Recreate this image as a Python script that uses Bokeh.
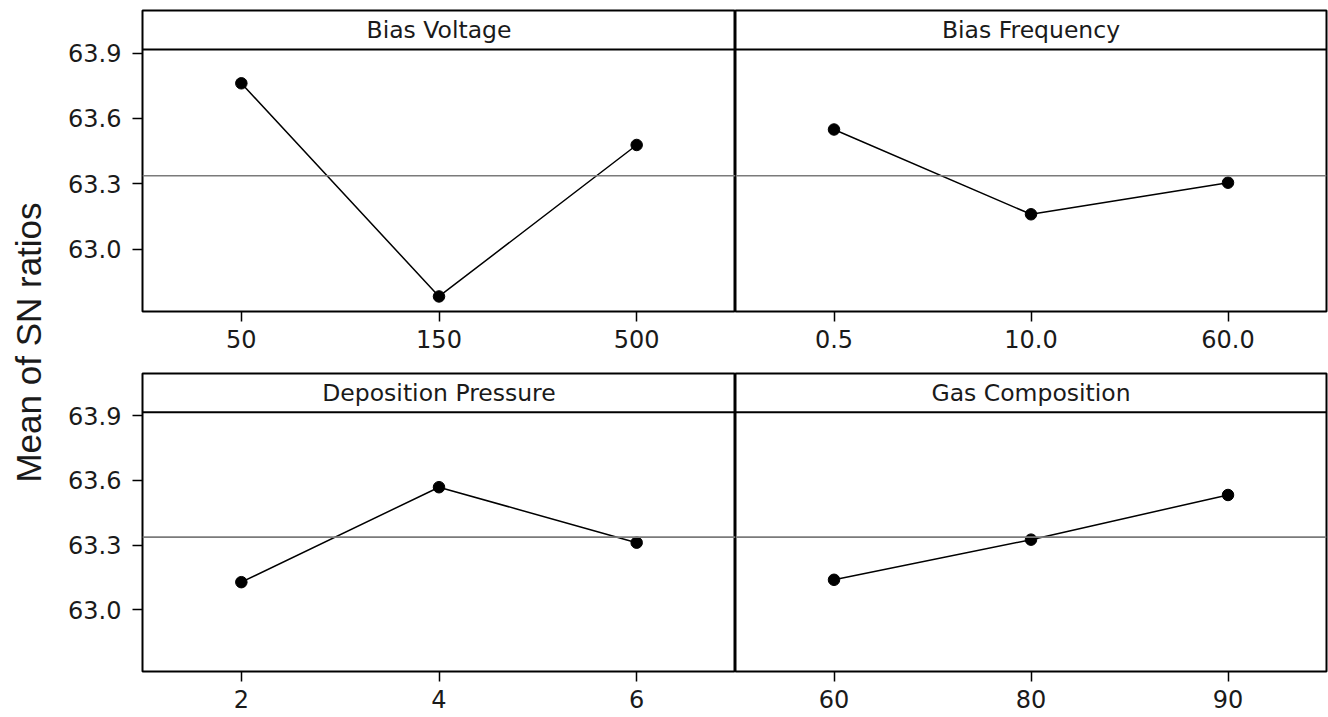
import math
import numpy as np
from bokeh.plotting import figure
from bokeh.layouts import row, column
from bokeh.models import Span, Label, FixedTicker, FactorRange, Range1d, PrintfTickFormatter
from bokeh.embed import file_html
from bokeh.resources import INLINE

# ---- data ----
factor_names = ["Bias Voltage", "Bias Frequency", "Deposition Pressure", "Gas Composition"]
bv_levels = ["50", "150", "500"]
bv_sn = [63.761, 62.783, 63.478]
bf_levels = ["0.5", "10.0", "60.0"]
bf_sn = [63.549, 63.160, 63.305]
dp_levels = ["2", "4", "6"]
dp_sn = [63.128, 63.568, 63.311]
gc_levels = ["60", "80", "90"]
gc_sn = [63.139, 63.325, 63.532]
y_ticks = [63.0, 63.3, 63.6, 63.9]
y_label = "Mean of SN ratios"

grand_mean = float(np.mean(bv_sn + bf_sn + dp_sn + gc_sn))

# ---- layout constants ----
Y_LO = 62.714
Y_HDR = 63.916
Y_HI = 64.095
TICK_FONT = "DejaVu Sans"
TEXT_COLOR = "#1a1a1a"


def panel(title, levels, values, left, top):
    p = figure(
        x_range=FactorRange(*levels),
        y_range=Range1d(Y_LO, Y_HI),
        frame_width=593 if left else 591,
        frame_height=301 if top else 298,
        min_border_left=84 if left else 0,
        min_border_right=0 if left else 2,
        min_border_top=10 if top else 1,
        min_border_bottom=61 if top else 46,
        output_backend="svg",
        toolbar_location=None,
        background_fill_color="white",
        border_fill_color="white",
    )
    p.outline_line_color = "black"
    p.outline_line_width = 2
    p.xgrid.visible = False
    p.ygrid.visible = False

    xa = p.xaxis[0]
    xa.axis_line_color = None
    xa.major_tick_line_color = "black"
    xa.major_tick_line_width = 1.5
    xa.major_tick_out = 10
    xa.major_tick_in = 0
    xa.minor_tick_line_color = None
    xa.major_label_text_font = TICK_FONT
    xa.major_label_text_font_size = "24px"
    xa.major_label_text_color = TEXT_COLOR
    xa.major_label_standoff = 8

    ya = p.yaxis[0]
    if left:
        ya.ticker = FixedTicker(ticks=y_ticks)
        ya.formatter = PrintfTickFormatter(format="%.1f")
        ya.axis_line_color = None
        ya.major_tick_line_color = "black"
        ya.major_tick_line_width = 1.5
        ya.major_tick_out = 10
        ya.major_tick_in = 0
        ya.minor_tick_line_color = None
        ya.major_label_text_font = TICK_FONT
        ya.major_label_text_font_size = "24px"
        ya.major_label_text_color = TEXT_COLOR
        ya.major_label_standoff = 11
    else:
        ya.visible = False

    # grand mean reference line
    p.add_layout(Span(location=grand_mean, dimension="width",
                      line_color="#7a7a7a", line_width=1.6))
    # header strip separator
    p.add_layout(Span(location=Y_HDR, dimension="width",
                      line_color="black", line_width=2))
    p.add_layout(Label(x=1.5, y=(Y_HDR + Y_HI) / 2, text=title,
                       text_align="center", text_baseline="middle",
                       text_font=TICK_FONT, text_font_size="23.5px",
                       text_color=TEXT_COLOR))

    p.line(x=levels, y=values, line_color="black", line_width=1.5)
    p.scatter(x=levels, y=values, size=11.5, fill_color="black", line_color="black")
    return p


tl = panel(factor_names[0], bv_levels, bv_sn, True, True)
tr = panel(factor_names[1], bf_levels, bf_sn, False, True)
bl = panel(factor_names[2], dp_levels, dp_sn, True, False)
br = panel(factor_names[3], gc_levels, gc_sn, False, False)

# left strip holding the shared y-axis title
LAB_W, LAB_H = 58, 717
lab = figure(frame_width=LAB_W, frame_height=LAB_H, min_border=0,
             x_range=Range1d(0, 1), y_range=Range1d(0, 1),
             output_backend="svg", toolbar_location=None)
lab.axis.visible = False
lab.xgrid.visible = False
lab.ygrid.visible = False
lab.outline_line_color = None
lab.add_layout(Label(x=28 / LAB_W, y=1 - 342 / LAB_H, text=y_label, angle=math.pi / 2,
                     text_align="center", text_baseline="middle",
                     text_font="Liberation Sans", text_font_size="35px",
                     text_color=TEXT_COLOR))

layout = row(lab, column(row(tl, tr), row(bl, br)))

open("out.html", "w").write(file_html(layout, INLINE))
